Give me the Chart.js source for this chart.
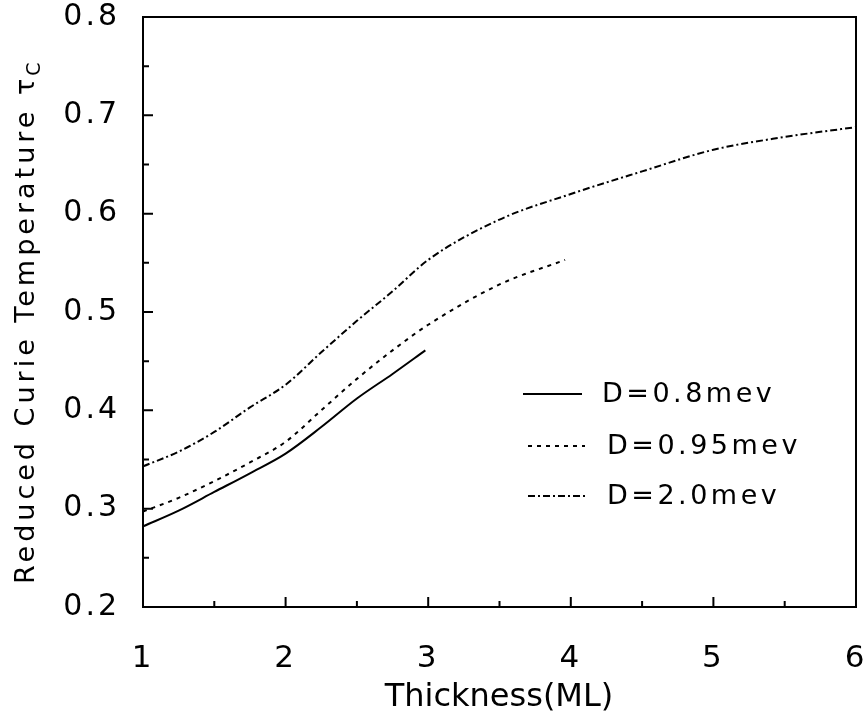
<!DOCTYPE html>
<html>
<head>
<meta charset="utf-8">
<script src="https://cdn.jsdelivr.net/npm/chart.js@4.4.0/dist/chart.umd.min.js"></script>
<style>
  body { margin: 0; background: #fff; }
  #wrap { width: 867px; height: 727px; }
</style>
</head>
<body>
<div id="wrap"><canvas id="myChart" width="867" height="727"></canvas></div>
<script>
// thickness (ML) and reduced Curie temperature for each D
const labels = ['D=0.8mev', 'D=0.95mev', 'D=2.0mev'];
const x08 = [1, 1.25, 1.5, 1.75, 2, 2.25, 2.5, 2.75, 2.98];
const tc08 = [0.282, 0.298, 0.317, 0.336, 0.356, 0.383, 0.412, 0.437, 0.461];
const x095 = [1, 1.25, 1.5, 1.75, 2, 2.25, 2.5, 2.75, 3, 3.5, 3.96];
const tc095 = [0.297, 0.311, 0.328, 0.347, 0.368, 0.400, 0.432, 0.461, 0.487, 0.528, 0.553];
const x20 = [1, 1.25, 1.5, 1.75, 2, 2.25, 2.5, 2.75, 3, 3.5, 4, 4.5, 5, 5.5, 6];
const tc20 = [0.343, 0.358, 0.378, 0.403, 0.426, 0.459, 0.491, 0.521, 0.553, 0.594, 0.620, 0.643, 0.665, 0.678, 0.688];
const xTicks = [1, 2, 3, 4, 5, 6];
const yTicks = [0.2, 0.3, 0.4, 0.5, 0.6, 0.7, 0.8];

const FONT = 'DejaVu Sans';
const pts = (xs, ys) => xs.map((x, i) => ({ x: x, y: ys[i] }));
const dashes = [[], [4, 5], [7, 3, 2, 3]];

const noPad = s => { s.paddingTop = 0; s.paddingBottom = 0; s.paddingLeft = 0; s.paddingRight = 0; };

// wider glyph spacing for the tick labels
const spacing = {
  id: 'spacing',
  beforeDraw(chart) { chart.ctx.letterSpacing = '3px'; },
  beforeDatasetsDraw(chart) { chart.ctx.letterSpacing = '0px'; }
};

// box + inward tick marks
const frame = {
  id: 'frame',
  afterDraw(chart) {
    const { ctx, chartArea: a, scales } = chart;
    ctx.save();
    ctx.strokeStyle = '#000';
    ctx.lineWidth = 2;
    ctx.strokeRect(a.left, a.top, a.right - a.left, a.bottom - a.top);
    ctx.beginPath();
    for (let v = 1; v <= 6.001; v += 0.5) {
      const px = scales.x.getPixelForValue(v);
      const len = Math.abs(v - Math.round(v)) < 0.01 ? 10 : 6;
      ctx.moveTo(px, a.bottom); ctx.lineTo(px, a.bottom - len);
    }
    for (let v = 0.2; v <= 0.801; v += 0.05) {
      const py = scales.y.getPixelForValue(v);
      const len = Math.abs(v * 10 - Math.round(v * 10)) < 0.01 ? 10 : 6;
      ctx.moveTo(a.left, py); ctx.lineTo(a.left + len, py);
    }
    ctx.stroke();
    ctx.restore();
  }
};

// legend inside the plot, axis titles
const extras = {
  id: 'extras',
  afterDraw(chart) {
    const { ctx } = chart;
    ctx.save();
    ctx.strokeStyle = '#000';
    ctx.fillStyle = '#000';
    ctx.lineWidth = 2;
    ctx.textBaseline = 'middle';
    ctx.textAlign = 'left';
    const rows = [
      { y: 394, x0: 523, x1: 582, tx: 602 },
      { y: 446, x0: 528, x1: 585, tx: 607 },
      { y: 496, x0: 528, x1: 585, tx: 607 }
    ];
    chart.data.datasets.forEach((ds, i) => {
      const r = rows[i];
      ctx.setLineDash(ds.borderDash);
      ctx.beginPath();
      ctx.moveTo(r.x0, r.y); ctx.lineTo(r.x1, r.y);
      ctx.stroke();
      ctx.setLineDash([]);
      ctx.font = '27px "' + FONT + '"';
      ctx.letterSpacing = '3.5px';
      ctx.fillText(ds.label, r.tx, r.y + 1);
    });

    ctx.letterSpacing = '0px';
    ctx.font = '32px "' + FONT + '"';
    ctx.textAlign = 'center';
    ctx.fillText('Thickness(ML)', 499, 698);

    ctx.translate(27, 584);
    ctx.rotate(-Math.PI / 2);
    ctx.font = '27px "' + FONT + '"';
    ctx.letterSpacing = '4px';
    ctx.textAlign = 'left';
    const main = 'Reduced Curie Temperature \u03C4';
    ctx.fillText(main, 0, 0);
    const w = ctx.measureText(main).width;
    ctx.font = '19px "' + FONT + '"';
    ctx.fillText('C', w - 1, 8);
    ctx.restore();
  }
};

const ctx = document.getElementById('myChart');
new Chart(ctx, {
  type: 'scatter',
  data: {
    datasets: [
      { label: labels[0], data: pts(x08, tc08), borderDash: dashes[0] },
      { label: labels[1], data: pts(x095, tc095), borderDash: dashes[1] },
      { label: labels[2], data: pts(x20, tc20), borderDash: dashes[2] }
    ].map(d => Object.assign(d, {
      showLine: true,
      borderColor: '#000',
      borderWidth: 2,
      pointRadius: 0,
      cubicInterpolationMode: 'monotone'
    }))
  },
  options: {
    responsive: false,
    animation: false,
    layout: { padding: { left: 0, top: 17, right: 11, bottom: 0 } },
    plugins: { legend: { display: false }, tooltip: { enabled: false } },
    scales: {
      x: {
        type: 'linear',
        min: 1, max: 6,
        afterFit: s => { s.height = 120; noPad(s); },
        afterBuildTicks: s => { s.ticks = xTicks.map(v => ({ value: v })); },
        grid: { display: false, drawTicks: false },
        border: { display: false },
        ticks: { padding: 33, color: '#000', font: { family: FONT, size: 31 } }
      },
      y: {
        type: 'linear',
        min: 0.2, max: 0.8,
        afterFit: s => { s.width = 143; noPad(s); },
        afterBuildTicks: s => { s.ticks = yTicks.map(v => ({ value: v })); },
        grid: { display: false, drawTicks: false },
        border: { display: false },
        ticks: { padding: 23, color: '#000', font: { family: FONT, size: 30 }, callback: v => v.toFixed(1) }
      }
    }
  },
  plugins: [spacing, frame, extras]
});
</script>
</body>
</html>
